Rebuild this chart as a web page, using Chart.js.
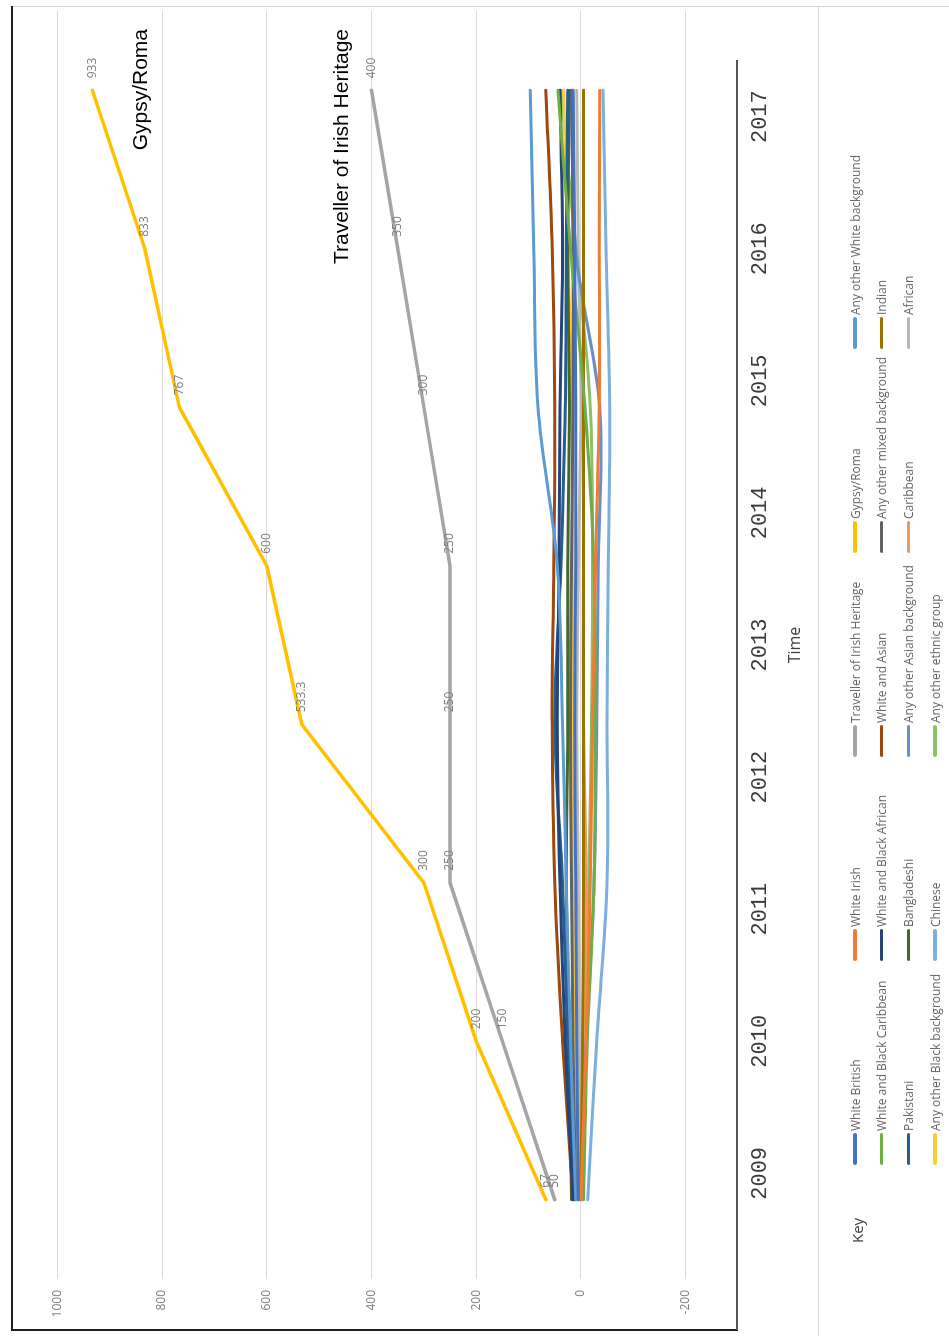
<!DOCTYPE html>
<html><head><meta charset="utf-8">
<script src="https://cdn.jsdelivr.net/npm/chart.js@4"></script>
<style>
html,body{margin:0;padding:0;background:#fff;overflow:hidden;width:949px;height:1336px;}
#wrap{position:absolute;left:0;top:0;width:1336px;height:949px;transform-origin:0 0;transform:translate(0px,1336px) rotate(-90deg);}
#c{position:absolute;left:0;top:0;width:1336px;height:949px;}
#legend{position:absolute;left:0;top:0;width:1336px;height:949px;pointer-events:none;font-family:'Open Sans',sans-serif;}
.item{position:absolute;height:18px;display:flex;align-items:center;white-space:nowrap;font-size:12px;color:#666;}
.sw{display:inline-block;width:32px;height:3.5px;border-radius:2px;margin-right:2px;}
.key{position:absolute;font-size:15px;color:#404040;line-height:18px;}
</style></head>
<body><div id="wrap"><canvas id="c" width="1336" height="949"></canvas><div id="legend"></div></div>
<script>
// ---- data ----
const categories = ['2009/10','2010/11','2011/12','2012/13','2013/14','2014/15','2015/16','2016/17'];
const yearLabels = [2009,2010,2011,2012,2013,2014,2015,2016,2017];
const valueTicks = [-200,0,200,400,600,800,1000];

const seriesNames = ['White British','White Irish','Traveller of Irish Heritage','Gypsy/Roma','Any other White background',
  'White and Black Caribbean','White and Black African','White and Asian','Any other mixed background','Indian',
  'Pakistani','Bangladeshi','Any other Asian background','Caribbean','African',
  'Any other Black background','Chinese','Any other ethnic group'];

const whiteBritish      = [5, 8, 10, 12, 10, 10, 12, 15];
const whiteIrish        = [0, -10, -18, -22, -28, -35, -35, -36];
const traveller         = [50, 150, 250, 250, 250, 300, 350, 400];
const gypsyRoma         = [67, 200, 300, 533.3, 600, 767, 833, 933];
const otherWhite        = [10, 20, 28, 35, 45, 82, 90, 97];
const wbCaribbean       = [-5, -12, -25, -27, -25, -8, 20, 44];
const wbAfrican         = [15, 30, 40, 45, 42, 40, 35, 40];
const whiteAsian        = [15, 35, 50, 55, 52, 50, 55, 67];
const otherMixed        = [10, 15, 18, 20, 18, 15, 15, 18];
const indian            = [0, -3, -5, -5, -5, -5, -5, -5];
const pakistani         = [12, 25, 35, 50, 38, 30, 28, 25];
const bangladeshi       = [18, 22, 28, 25, 25, 22, 25, 22];
const otherAsian        = [3, -10, -25, -30, -33, -36, 10, 15];
const caribbean         = [2, -5, -10, -5, -5, -5, -5, -5];
const african           = [5, 3, 5, 8, 5, 0, 5, 8];
const otherBlack        = [8, 10, 15, 15, 15, 17, 25, 33];
const chinese           = [-13, -30, -50, -50, -52, -55, -48, -42];
const otherEthnic       = [-3, -8, -15, -20, -22, -18, 10, 38];

const seriesValues = [whiteBritish, whiteIrish, traveller, gypsyRoma, otherWhite,
  wbCaribbean, wbAfrican, whiteAsian, otherMixed, indian,
  pakistani, bangladeshi, otherAsian, caribbean, african,
  otherBlack, chinese, otherEthnic];

// ---- styles ----
const seriesColors = ['#4472C4','#ED7D31','#A5A5A5','#FFC000','#5B9BD5',
  '#70AD47','#264478','#9E480E','#636363','#997300',
  '#255E91','#43682B','#698ED0','#F1975A','#B7B7B7',
  '#FFCD33','#7CAFDD','#8CC168'];
const labelled = ['Traveller of Irish Heritage','Gypsy/Roma'];

const datasets = seriesNames.map((name,i)=>({
  label: name,
  data: seriesValues[i],
  borderColor: seriesColors[i],
  backgroundColor: seriesColors[i],
  borderWidth: labelled.includes(name) ? 3.5 : 3,
  pointRadius: 0,
  tension: labelled.includes(name) ? 0 : 0.35,
  borderCapStyle: 'round',
  borderJoinStyle: 'round',
  fill: false,
  showValues: labelled.includes(name)
}));

function seg(c,color,w,x1,y1,x2,y2){c.strokeStyle=color;c.lineWidth=w;c.beginPath();c.moveTo(x1,y1);c.lineTo(x2,y2);c.stroke();}

const decor = {
  id:'decor',
  beforeDraw(chart){const c=chart.ctx;c.save();c.fillStyle='#fff';c.fillRect(0,0,chart.width,chart.height);c.restore();},
  afterDatasetsDraw(chart){
    const c=chart.ctx;c.save();
    c.font='12px "Open Sans", sans-serif';c.fillStyle='#7f7f7f';c.textAlign='left';c.textBaseline='middle';
    chart.data.datasets.forEach((ds,i)=>{
      if(!ds.showValues) return;
      chart.getDatasetMeta(i).data.forEach((pt,j)=>{c.fillText(String(ds.data[j]), pt.x+12, pt.y);});
    });
    c.restore();
  },
  afterDraw(chart){
    const c=chart.ctx;c.save();
    seg(c,'#d6d6d6',1,0,818.5,1329,818.5);
    seg(c,'#d6d6d6',1,1329.5,12,1329.5,949);
    seg(c,'#1f1f1f',2,5,12,1330,12);
    seg(c,'#1f1f1f',2,6,11,6,738);
    seg(c,'#555555',2,6,737,1276,737);
    c.fillStyle='#000';c.font='21px "Liberation Sans", Arial, sans-serif';c.textAlign='right';c.textBaseline='alphabetic';
    c.fillText('Gypsy/Roma',1307,147);
    c.fillText('Traveller of Irish Heritage',1307,348);
    c.restore();
  }
};

new Chart(document.getElementById('c'),{
  type:'line',
  data:{labels:categories, datasets},
  plugins:[decor],
  options:{
    responsive:false, animation:false, devicePixelRatio:1,
    layout:{padding:{left:0,right:11,top:5,bottom:131}},
    plugins:{legend:{display:false},tooltip:{enabled:false}},
    scales:{
      x:{type:'category',offset:true,display:false},
      xYears:{type:'linear',position:'bottom',min:2008.2,max:2017.8,
        grid:{display:false},border:{display:false},
        afterBuildTicks:s=>{s.ticks=yearLabels.map(v=>({value:v}));},
        afterFit:s=>{s.height=80;s.paddingLeft=0;s.paddingRight=0;s.paddingTop=0;s.paddingBottom=0;},
        ticks:{autoSkip:false,maxRotation:0,padding:1,color:'#3a3a3a',
          font:{family:'"Liberation Mono", "Courier New", monospace',size:22},
          callback:v=>String(v)},
        title:{display:true,text:'Time',color:'#404040',font:{family:'"Open Sans", sans-serif',size:16},padding:{top:0,bottom:13}}
      },
      y:{min:-300,max:1100,
        afterBuildTicks:s=>{s.ticks=valueTicks.map(v=>({value:v}));},
        afterFit:s=>{s.width=57;s.paddingTop=0;s.paddingBottom=0;s.paddingLeft=0;s.paddingRight=0;},
        grid:{color:'#d9d9d9',drawTicks:false,lineWidth:1},border:{display:false},
        ticks:{padding:11,color:'#808080',font:{family:'"Open Sans", sans-serif',size:12},callback:v=>String(v)}
      }
    }
  }
});

// ---- legend (HTML, built from the series) ----
const lg=document.getElementById('legend');
const key=document.createElement('div');key.className='key';key.textContent='Key';
key.style.left='93px';key.style.top='848px';lg.appendChild(key);
seriesNames.forEach((name,i)=>{
  const col=i%5,row=Math.floor(i/5);
  const d=document.createElement('div');d.className='item';
  d.style.left=(171+col*204)+'px';d.style.top=(846+row*26.7)+'px';
  const sw=document.createElement('span');sw.className='sw';sw.style.background=seriesColors[i];
  const t=document.createElement('span');t.textContent=name;
  d.appendChild(sw);d.appendChild(t);lg.appendChild(d);
});
</script>
</body></html>
